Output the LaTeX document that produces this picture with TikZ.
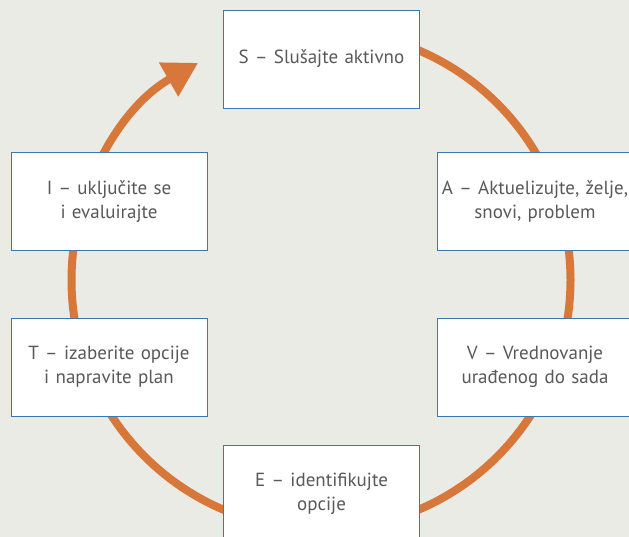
\documentclass[tikz,border=0pt]{standalone}
\usepackage{fontspec}
\setmainfont{PT Sans}
\usetikzlibrary{arrows.meta,calc}
\definecolor{bgcol}{HTML}{EBEBE6}
\definecolor{ringcol}{HTML}{D8773A}
\definecolor{boxline}{HTML}{3A78B2}
\definecolor{txtcol}{HTML}{595959}
\tikzset{
  stepbox/.style={draw=boxline, line width=0.9pt, fill=white,
    minimum width=196pt, minimum height=98pt, inner sep=0pt,
    text width=196pt, align=center, text=txtcol,
    font=\fontsize{19pt}{24pt}\selectfont},
  ring/.style={draw=ringcol, line width=8pt}
}
\begin{document}
\begin{tikzpicture}[x=1pt,y=1pt]
\useasboundingbox (0,0) rectangle (629,537);
\clip (0,0) rectangle (629,537);
\fill[bgcol] (0,0) rectangle (629,537);
% the cycle ring with its arrowhead
\coordinate (c) at (321,257);
\coordinate (ringstart) at ($(c)+(90:249.5)$);
\draw[ring, -{Triangle[length=34pt,width=37pt]}]
  (ringstart) arc[start angle=90, end angle=-240.5, radius=249.5];
% the six steps
\node[stepbox] (s) at (321.5,478) {S -- Slušajte aktivno};
\node[stepbox] (a) at (535,335.5) {A -- Aktuelizujte, želje,\\ snovi, problem};
\node[stepbox] (v) at (535,170) {V -- Vrednovanje\\ urađenog do sada};
\node[stepbox] (e) at (321.5,43) {E -- identifikujte\\ opcije};
\node[stepbox] (t) at (109,170) {T -- izaberite opcije\\ i napravite plan};
\node[stepbox] (i) at (109,335.5) {I -- uključite se\\ i evaluirajte};
\end{tikzpicture}
\end{document}
